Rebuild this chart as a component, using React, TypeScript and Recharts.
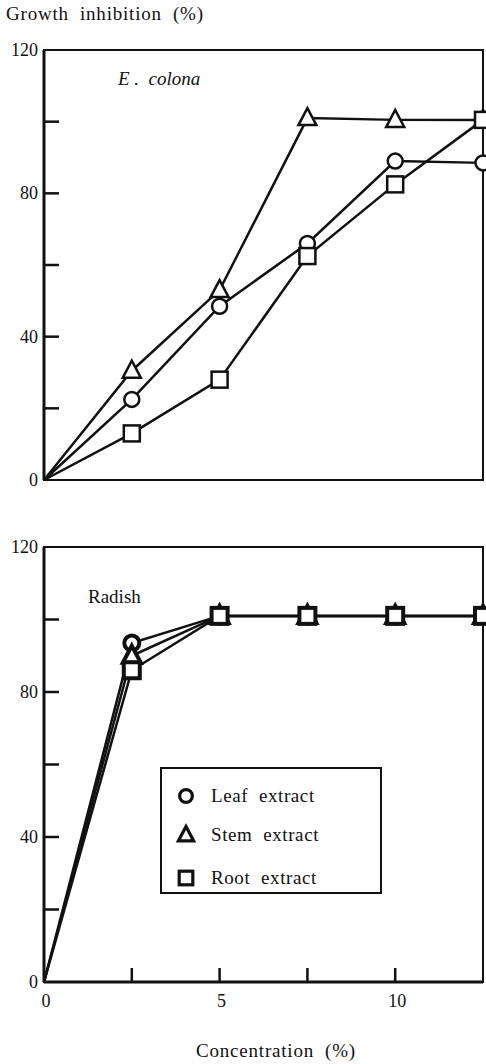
import React from "react";
import { LineChart, Line, XAxis, YAxis, ReferenceArea } from "recharts";

const concentration = [0, 2.5, 5, 7.5, 10, 12.5];
const colonaLeaf = [0, 22.5, 48.5, 66, 89, 88.5];
const colonaStem = [0, 30.5, 53, 101, 100.5, 100.5];
const colonaRoot = [0, 13, 28, 62.5, 82.5, 100.5];
const radishLeaf = [0, 93.5, 101, 101, 101, 101];
const radishStem = [0, 90, 101, 101, 101, 101];
const radishRoot = [0, 86, 101, 101, 101, 101];

const yTicks = [0, 20, 40, 60, 80, 100, 120];
const yLabels = [0, 40, 80, 120];
const xTicks = [0, 2.5, 5, 7.5, 10, 12.5];
const xLabels = [0, 5, 10];
const seriesNames = ["Leaf extract", "Stem extract", "Root extract"];

const FONT = "'Liberation Serif', 'DejaVu Serif', serif";
const INK = "#111";

const buildRows = (leaf: number[], stem: number[], root: number[]) =>
  concentration.map((c, i) => ({ conc: c, leaf: leaf[i], stem: stem[i], root: root[i] }));

const colonaData = buildRows(colonaLeaf, colonaStem, colonaRoot);
const radishData = buildRows(radishLeaf, radishStem, radishRoot);

type Shape = "circle" | "triangle" | "square";
const shapes: Shape[] = ["circle", "triangle", "square"];

const Marker = ({ shape, cx, cy, size = 1, sw = 2.5 }: { shape: Shape; cx: number; cy: number; size?: number; sw?: number }) => {
  if (shape === "circle") {
    return <circle cx={cx} cy={cy} r={7.5 * size} fill="#fff" stroke={INK} strokeWidth={sw} />;
  }
  if (shape === "triangle") {
    const h = 9 * size;
    return (
      <path
        d={`M${cx},${cy - 10 * size} L${cx - h},${cy + 7 * size} L${cx + h},${cy + 7 * size} Z`}
        fill="#fff"
        stroke={INK}
        strokeWidth={sw}
      />
    );
  }
  const s = 8 * size;
  return <rect x={cx - s} y={cy - s} width={2 * s} height={2 * s} fill="#fff" stroke={INK} strokeWidth={sw} />;
};

const makeDot = (shape: Shape, sw: number) => (props: any) => {
  const { cx, cy, payload, index } = props;
  if (payload.conc === 0 || cx == null) return <g key={`d-${shape}-${index}`} />;
  return (
    <g key={`d-${shape}-${index}`}>
      <Marker shape={shape} cx={cx} cy={cy} sw={sw} />
    </g>
  );
};

const YTick = ({ x, y, payload }: any) => (
  <g>
    {payload.value > 0 && payload.value < 120 && (
      <line x1={x} x2={x + 15} y1={y} y2={y} stroke={INK} strokeWidth={2.5} />
    )}
    {yLabels.includes(payload.value) && (
      <text x={x - 6} y={y} dy={6} textAnchor="end" fontSize={18} fontFamily={FONT} fill={INK}>
        {payload.value}
      </text>
    )}
  </g>
);

const makeXTick = (showLabels: boolean) => ({ x, y, payload }: any) => (
  <g>
    {payload.value > 0 && payload.value < 12.5 && (
      <line x1={x} x2={x} y1={y} y2={y - 14} stroke={INK} strokeWidth={2.5} />
    )}
    {showLabels && xLabels.includes(payload.value) && (
      <text x={x + 2} y={y + 25} textAnchor="middle" fontSize={18} fontFamily={FONT} fill={INK}>
        {payload.value}
      </text>
    )}
  </g>
);

const LegendBox = () => (
  <div
    style={{
      position: "absolute",
      left: 160,
      top: 767,
      width: 222,
      height: 127,
      border: `2px solid ${INK}`,
      boxSizing: "border-box",
      background: "#fff",
      fontFamily: FONT,
      fontSize: 19,
      color: INK,
    }}
  >
    {seriesNames.map((name, i) => {
      const centers = [27, 66, 109];
      return (
        <div key={name} style={{ position: "absolute", left: 12, top: centers[i] - 12, height: 24, display: "flex", alignItems: "center" }}>
          <svg width={24} height={24}>
            <Marker shape={shapes[i]} cx={12} cy={12} size={0.85} sw={3.2} />
          </svg>
          <span style={{ marginLeft: 13, letterSpacing: 0.6, whiteSpace: "pre" }}>{name.replace(" ", "  ")}</span>
        </div>
      );
    })}
  </div>
);

const renderLines = (sw: number) =>
  (["leaf", "stem", "root"] as const).map((key, i) => (
    <Line
      key={key}
      dataKey={key}
      stroke={INK}
      strokeWidth={2.5}
      dot={makeDot(shapes[i], sw)}
      isAnimationActive={false}
    />
  ));

const axisProps = {
  tickSize: 0,
  tickMargin: 0,
  interval: 0 as const,
  tickLine: false,
  axisLine: { stroke: INK, strokeWidth: 3 },
};

export default function App() {
  return (
    <div style={{ position: "absolute", left: 0, top: 0, width: 486, height: 1064, background: "#fff", fontFamily: FONT, overflow: "hidden" }}>
      <div style={{ position: "absolute", left: 6, top: 3, fontSize: 19, letterSpacing: 0.8, color: INK, whiteSpace: "pre" }}>
        Growth  inhibition  (%)
      </div>

      <div style={{ position: "absolute", left: 0, top: 0 }}>
        <LineChart width={486} height={500} data={colonaData} margin={{ top: 50, right: 3, bottom: 20, left: 0 }}>
          <ReferenceArea x1={0} x2={12.5} y1={0} y2={120} fill="none" stroke={INK} strokeWidth={2} />
          <XAxis dataKey="conc" type="number" domain={[0, 12.5]} ticks={xTicks} height={0} tick={makeXTick(false)} {...axisProps} />
          <YAxis type="number" domain={[0, 120]} ticks={yTicks} width={44} tick={<YTick />} {...axisProps} />
          {renderLines(2.5)}
        </LineChart>
      </div>
      <div style={{ position: "absolute", left: 118, top: 68, fontSize: 19, fontStyle: "italic", color: INK, whiteSpace: "pre" }}>
        E .  colona
      </div>

      <div style={{ position: "absolute", left: 0, top: 500 }}>
        <LineChart width={486} height={540} data={radishData} margin={{ top: 47, right: 3, bottom: 28, left: 0 }}>
          <ReferenceArea x1={0} x2={12.5} y1={0} y2={120} fill="none" stroke={INK} strokeWidth={2} />
          <XAxis dataKey="conc" type="number" domain={[0, 12.5]} ticks={xTicks} height={30} tick={makeXTick(true)} {...axisProps} />
          <YAxis type="number" domain={[0, 120]} ticks={yTicks} width={44} tick={<YTick />} {...axisProps} />
          {renderLines(4)}
        </LineChart>
      </div>
      <div style={{ position: "absolute", left: 88, top: 586, fontSize: 19, color: INK }}>Radish</div>

      <LegendBox />

      <div style={{ position: "absolute", left: 0, width: 552, top: 1040, textAlign: "center", fontSize: 19, color: INK, letterSpacing: 0.8, whiteSpace: "pre" }}>
        Concentration  (%)
      </div>
    </div>
  );
}
